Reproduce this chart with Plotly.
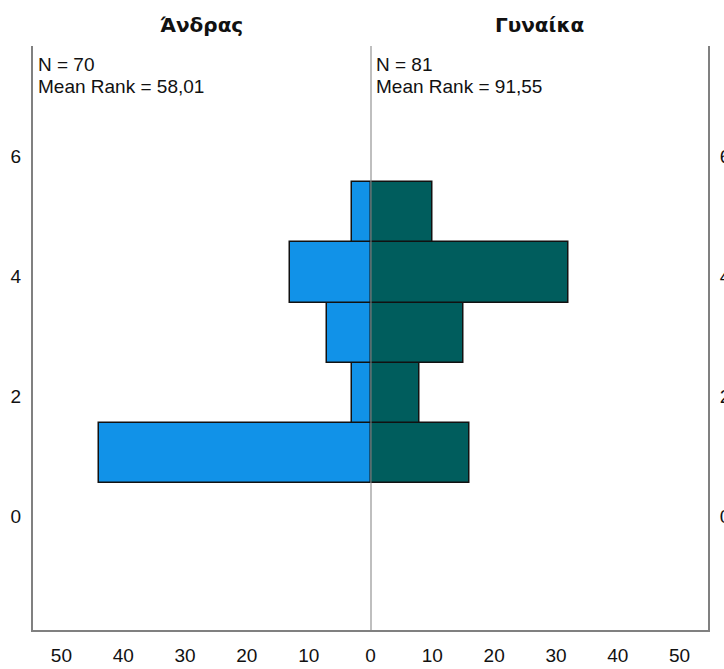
import plotly.graph_objects as go

# Rank categories and frequency per group
categories = [1, 2, 3, 4, 5]
men_counts = [44, 3, 7, 13, 3]
women_counts = [16, 8, 15, 32, 10]

group_names = ["Άνδρας", "Γυναίκα"]
group_n = [70, 81]
mean_ranks = ["58,01", "91,55"]

y_ticks = [0, 2, 4, 6]
x_ticks = [0, 10, 20, 30, 40, 50]

BLUE = "#1192e8"
TEAL = "#005d5d"
FRAME = "#808080"
FONT = "Liberation Sans, Arial, sans-serif"

fig = go.Figure()

fig.add_trace(go.Bar(
    x=men_counts, y=categories, orientation="h", width=1,
    marker=dict(color=BLUE, line=dict(color="#111111", width=1.5)),
    xaxis="x", yaxis="y", showlegend=False,
))
fig.add_trace(go.Bar(
    x=women_counts, y=categories, orientation="h", width=1,
    marker=dict(color=TEAL, line=dict(color="#111111", width=1.5)),
    xaxis="x2", yaxis="y2", showlegend=False,
))

y_range = [-1.95, 7.77]
x_max = 54.6

axis_common = dict(
    showgrid=False, zeroline=False, showline=True, linecolor=FRAME, linewidth=2,
    ticks="", automargin=False,
    tickfont=dict(family=FONT, size=19, color="#111111"),
)

fig.update_layout(
    width=724, height=669,
    margin=dict(l=33, r=16, t=46, b=39),
    paper_bgcolor="white", plot_bgcolor="white",
    bargap=0,
    xaxis=dict(domain=[0, 0.5], range=[x_max, 0], anchor="y",
               tickvals=x_ticks[1:], ticktext=[str(v) for v in x_ticks[1:]],
               ticklabelstandoff=7, **axis_common),
    xaxis2=dict(domain=[0.5, 1], range=[0, x_max], anchor="y2",
                tickvals=x_ticks, ticktext=[str(v) for v in x_ticks],
                ticklabelstandoff=7, **axis_common),
    yaxis=dict(range=y_range, anchor="x", side="left", tickvals=y_ticks,
               ticklabelshift=4, ticklabelstandoff=6, **axis_common),
    yaxis2=dict(range=y_range, anchor="x2", side="right", matches="y",
                tickvals=y_ticks, ticklabelshift=4, ticklabelstandoff=6,
                **axis_common),
)

# Centre divider between the two groups
fig.add_shape(type="line", xref="x2", yref="paper", x0=0, x1=0, y0=0, y1=1,
              line=dict(color=FRAME, width=2), layer="above")

for i, (name, n, mr) in enumerate(zip(group_names, group_n, mean_ranks)):
    xr = "x domain" if i == 0 else "x2 domain"
    fig.add_annotation(text=f"<b>{name}</b>", xref=xr, yref="paper",
                       x=0.5, y=1.036, xanchor="center", yanchor="middle",
                       showarrow=False,
                       font=dict(family="DejaVu Sans, sans-serif", size=20, color="#111111"))
    fig.add_annotation(text=f"N = {n}", xref=xr, yref="paper",
                       x=0, xshift=3, y=0.9675, xanchor="left", yanchor="middle",
                       showarrow=False, font=dict(family=FONT, size=19, color="#111111"))
    fig.add_annotation(text=f"Mean Rank = {mr}", xref=xr, yref="paper",
                       x=0, xshift=3, y=0.9298, xanchor="left", yanchor="middle",
                       showarrow=False, font=dict(family=FONT, size=19, color="#111111"))

fig.write_html("out.html")
